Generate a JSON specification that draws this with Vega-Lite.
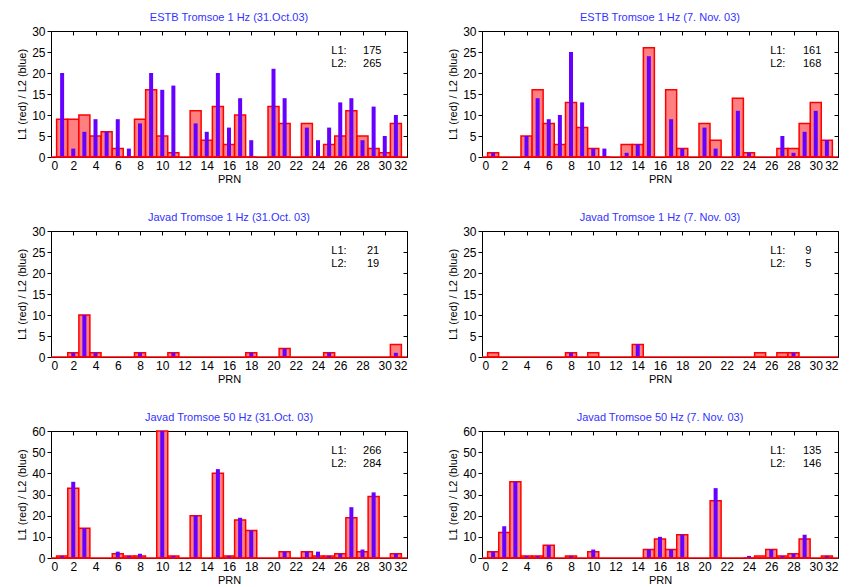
{
  "$schema": "https://vega.github.io/schema/vega-lite/v6.json",
  "padding": {"left": 16, "top": 11, "right": 2, "bottom": 0},
  "background": "white",
  "datasets": {
    "bars": [
      {"panel":"a","prn":1,"L1":9,"L2":20},{"panel":"a","prn":2,"L1":9,"L2":2},{"panel":"a","prn":3,"L1":10,"L2":6},{"panel":"a","prn":4,"L1":5,"L2":9},{"panel":"a","prn":5,"L1":6,"L2":6},{"panel":"a","prn":6,"L1":2,"L2":9},{"panel":"a","prn":7,"L1":0,"L2":2},{"panel":"a","prn":8,"L1":9,"L2":8},{"panel":"a","prn":9,"L1":16,"L2":20},{"panel":"a","prn":10,"L1":5,"L2":16},{"panel":"a","prn":11,"L1":1,"L2":17},{"panel":"a","prn":13,"L1":11,"L2":8},{"panel":"a","prn":14,"L1":4,"L2":6},{"panel":"a","prn":15,"L1":12,"L2":20},{"panel":"a","prn":16,"L1":3,"L2":7},{"panel":"a","prn":17,"L1":10,"L2":14},{"panel":"a","prn":18,"L1":0,"L2":4},{"panel":"a","prn":20,"L1":12,"L2":21},{"panel":"a","prn":21,"L1":8,"L2":14},{"panel":"a","prn":23,"L1":8,"L2":7},{"panel":"a","prn":24,"L1":0,"L2":4},{"panel":"a","prn":25,"L1":3,"L2":7},{"panel":"a","prn":26,"L1":5,"L2":13},{"panel":"a","prn":27,"L1":11,"L2":14},{"panel":"a","prn":28,"L1":5,"L2":4},{"panel":"a","prn":29,"L1":2,"L2":12},{"panel":"a","prn":30,"L1":1,"L2":5},{"panel":"a","prn":31,"L1":8,"L2":10},
      {"panel":"b","prn":1,"L1":1,"L2":1},{"panel":"b","prn":4,"L1":5,"L2":5},{"panel":"b","prn":5,"L1":16,"L2":14},{"panel":"b","prn":6,"L1":8,"L2":9},{"panel":"b","prn":7,"L1":3,"L2":10},{"panel":"b","prn":8,"L1":13,"L2":25},{"panel":"b","prn":9,"L1":7,"L2":13},{"panel":"b","prn":10,"L1":2,"L2":2},{"panel":"b","prn":11,"L1":0,"L2":2},{"panel":"b","prn":13,"L1":3,"L2":1},{"panel":"b","prn":14,"L1":3,"L2":3},{"panel":"b","prn":15,"L1":26,"L2":24},{"panel":"b","prn":17,"L1":16,"L2":9},{"panel":"b","prn":18,"L1":2,"L2":2},{"panel":"b","prn":20,"L1":8,"L2":7},{"panel":"b","prn":21,"L1":4,"L2":2},{"panel":"b","prn":23,"L1":14,"L2":11},{"panel":"b","prn":24,"L1":1,"L2":1},{"panel":"b","prn":27,"L1":2,"L2":5},{"panel":"b","prn":28,"L1":2,"L2":1},{"panel":"b","prn":29,"L1":8,"L2":6},{"panel":"b","prn":30,"L1":13,"L2":11},{"panel":"b","prn":31,"L1":4,"L2":4},
      {"panel":"c","prn":2,"L1":1,"L2":1},{"panel":"c","prn":3,"L1":10,"L2":10},{"panel":"c","prn":4,"L1":1,"L2":1},{"panel":"c","prn":8,"L1":1,"L2":1},{"panel":"c","prn":11,"L1":1,"L2":1},{"panel":"c","prn":18,"L1":1,"L2":1},{"panel":"c","prn":21,"L1":2,"L2":2},{"panel":"c","prn":25,"L1":1,"L2":1},{"panel":"c","prn":31,"L1":3,"L2":1},
      {"panel":"d","prn":1,"L1":1,"L2":0},{"panel":"d","prn":8,"L1":1,"L2":1},{"panel":"d","prn":10,"L1":1,"L2":0},{"panel":"d","prn":14,"L1":3,"L2":3},{"panel":"d","prn":25,"L1":1,"L2":0},{"panel":"d","prn":27,"L1":1,"L2":0},{"panel":"d","prn":28,"L1":1,"L2":1},
      {"panel":"e","prn":1,"L1":1,"L2":1},{"panel":"e","prn":2,"L1":33,"L2":36},{"panel":"e","prn":3,"L1":14,"L2":14},{"panel":"e","prn":6,"L1":2,"L2":3},{"panel":"e","prn":7,"L1":1,"L2":1},{"panel":"e","prn":8,"L1":1,"L2":2},{"panel":"e","prn":10,"L1":60,"L2":60},{"panel":"e","prn":11,"L1":1,"L2":1},{"panel":"e","prn":13,"L1":20,"L2":20},{"panel":"e","prn":15,"L1":40,"L2":42},{"panel":"e","prn":16,"L1":1,"L2":1},{"panel":"e","prn":17,"L1":18,"L2":19},{"panel":"e","prn":18,"L1":13,"L2":13},{"panel":"e","prn":21,"L1":3,"L2":3},{"panel":"e","prn":23,"L1":3,"L2":3},{"panel":"e","prn":24,"L1":1,"L2":3},{"panel":"e","prn":25,"L1":1,"L2":1},{"panel":"e","prn":26,"L1":2,"L2":2},{"panel":"e","prn":27,"L1":19,"L2":24},{"panel":"e","prn":28,"L1":3,"L2":4},{"panel":"e","prn":29,"L1":29,"L2":31},{"panel":"e","prn":31,"L1":2,"L2":2},
      {"panel":"f","prn":1,"L1":3,"L2":3},{"panel":"f","prn":2,"L1":12,"L2":15},{"panel":"f","prn":3,"L1":36,"L2":36},{"panel":"f","prn":4,"L1":1,"L2":1},{"panel":"f","prn":5,"L1":1,"L2":1},{"panel":"f","prn":6,"L1":6,"L2":6},{"panel":"f","prn":8,"L1":1,"L2":1},{"panel":"f","prn":10,"L1":3,"L2":4},{"panel":"f","prn":15,"L1":4,"L2":4},{"panel":"f","prn":16,"L1":9,"L2":10},{"panel":"f","prn":17,"L1":4,"L2":4},{"panel":"f","prn":18,"L1":11,"L2":11},{"panel":"f","prn":21,"L1":27,"L2":33},{"panel":"f","prn":24,"L1":0,"L2":1},{"panel":"f","prn":25,"L1":1,"L2":0},{"panel":"f","prn":26,"L1":4,"L2":4},{"panel":"f","prn":27,"L1":1,"L2":1},{"panel":"f","prn":28,"L1":2,"L2":2},{"panel":"f","prn":29,"L1":9,"L2":11},{"panel":"f","prn":31,"L1":1,"L2":1}
    ],
    "totals": [
      {"panel":"a","L1":175,"L2":265},{"panel":"b","L1":161,"L2":168},{"panel":"c","L1":21,"L2":19},{"panel":"d","L1":9,"L2":5},{"panel":"e","L1":266,"L2":284},{"panel":"f","L1":135,"L2":146}
    ]
  },
  "config": {
    "font": "Liberation Sans",
    "view": {"stroke": "#000000", "strokeWidth": 1},
    "axis": {"grid": false, "domain": false, "labelFontSize": 12, "titleFontSize": 11, "titleFontWeight": "normal", "labelColor": "#000000", "titleColor": "#000000", "tickColor": "#000000"},
    "title": {"fontSize": 11, "fontWeight": "normal", "color": "#3333ff", "offset": 2, "anchor": "middle"},
    "text": {"fontSize": 11, "color": "#000000"}
  },
  "columns": 2,
  "spacing": {"row": 26, "column": 38},
  "concat": [
    {
      "width": 356, "height": 126,
      "title": "ESTB Tromsoe 1 Hz (31.Oct.03)",
      "layer": [
        {"data": {"name": "bars"}, "transform": [{"filter": "datum.panel == 'a'"}],
         "mark": {"type": "bar", "width": 11, "fill": "#ff8080", "stroke": "#ff0000", "strokeWidth": 1.5},
         "encoding": {"x": {"field": "prn", "type": "quantitative", "scale": {"domain": [0, 32], "nice": false, "padding": 0}, "axis": {"orient": "bottom", "title": "PRN", "values": [0,2,4,6,8,10,12,14,16,18,20,22,24,26,28,30,32], "ticks": false, "labelPadding": 3, "titlePadding": 2}},
                      "y": {"field": "L1", "type": "quantitative", "scale": {"domain": [0, 30], "nice": false}, "axis": {"orient": "left", "title": "L1 (red) / L2 (blue)", "values": [0,5,10,15,20,25,30], "tickSize": 4, "labelPadding": 2, "titlePadding": 4}}}},
        {"data": {"name": "bars"}, "transform": [{"filter": "datum.panel == 'a'"}],
         "mark": {"type": "bar", "width": 4, "color": "#6600ff"},
         "encoding": {"x": {"field": "prn", "type": "quantitative", "scale": {"domain": [0, 32], "nice": false, "padding": 0}, "axis": {"orient": "top", "title": null, "labels": false, "values": [0,2,4,6,8,10,12,14,16,18,20,22,24,26,28,30,32], "tickSize": -4}},
                      "y": {"field": "L2", "type": "quantitative", "scale": {"domain": [0, 30], "nice": false}, "axis": {"orient": "right", "title": null, "labels": false, "values": [0,5,10,15,20,25,30], "tickSize": -4}}}},
        {"data": {"values": [{}]}, "mark": {"type": "rule", "color": "#ff0000", "strokeWidth": 1.5}, "encoding": {"y": {"datum": 0, "axis": null}}},
        {"data": {"name": "totals"}, "transform": [{"filter": "datum.panel == 'a'"}], "mark": {"type": "text", "align": "left", "baseline": "middle", "lineHeight": 13, "text": ["L1:", "L2:"]},
         "encoding": {"x": {"datum": 25.2, "axis": null}, "y": {"datum": 25.2, "axis": null}}},
        {"data": {"name": "totals"}, "transform": [{"filter": "datum.panel == 'a'"}], "mark": {"type": "text", "align": "right", "baseline": "middle"},
         "encoding": {"x": {"datum": 29.7, "axis": null}, "y": {"datum": 25.2, "axis": null}, "text": {"field": "L1"}}},
        {"data": {"name": "totals"}, "transform": [{"filter": "datum.panel == 'a'"}], "mark": {"type": "text", "align": "right", "baseline": "middle"},
         "encoding": {"x": {"datum": 29.7, "axis": null}, "y": {"datum": 22.1, "axis": null}, "text": {"field": "L2"}}}
      ]
    },
    {
      "width": 356, "height": 126,
      "title": "ESTB Tromsoe 1 Hz (7. Nov. 03)",
      "layer": [
        {"data": {"name": "bars"}, "transform": [{"filter": "datum.panel == 'b'"}],
         "mark": {"type": "bar", "width": 11, "fill": "#ff8080", "stroke": "#ff0000", "strokeWidth": 1.5},
         "encoding": {"x": {"field": "prn", "type": "quantitative", "scale": {"domain": [0, 32], "nice": false, "padding": 0}, "axis": {"orient": "bottom", "title": "PRN", "values": [0,2,4,6,8,10,12,14,16,18,20,22,24,26,28,30,32], "ticks": false, "labelPadding": 3, "titlePadding": 2}},
                      "y": {"field": "L1", "type": "quantitative", "scale": {"domain": [0, 30], "nice": false}, "axis": {"orient": "left", "title": "L1 (red) / L2 (blue)", "values": [0,5,10,15,20,25,30], "tickSize": 4, "labelPadding": 2, "titlePadding": 4}}}},
        {"data": {"name": "bars"}, "transform": [{"filter": "datum.panel == 'b'"}],
         "mark": {"type": "bar", "width": 4, "color": "#6600ff"},
         "encoding": {"x": {"field": "prn", "type": "quantitative", "scale": {"domain": [0, 32], "nice": false, "padding": 0}, "axis": {"orient": "top", "title": null, "labels": false, "values": [0,2,4,6,8,10,12,14,16,18,20,22,24,26,28,30,32], "tickSize": -4}},
                      "y": {"field": "L2", "type": "quantitative", "scale": {"domain": [0, 30], "nice": false}, "axis": {"orient": "right", "title": null, "labels": false, "values": [0,5,10,15,20,25,30], "tickSize": -4}}}},
        {"data": {"values": [{}]}, "mark": {"type": "rule", "color": "#ff0000", "strokeWidth": 1.5}, "encoding": {"y": {"datum": 0, "axis": null}}},
        {"data": {"name": "totals"}, "transform": [{"filter": "datum.panel == 'b'"}], "mark": {"type": "text", "align": "left", "baseline": "middle", "lineHeight": 13, "text": ["L1:", "L2:"]},
         "encoding": {"x": {"datum": 25.9, "axis": null}, "y": {"datum": 25.2, "axis": null}}},
        {"data": {"name": "totals"}, "transform": [{"filter": "datum.panel == 'b'"}], "mark": {"type": "text", "align": "right", "baseline": "middle"},
         "encoding": {"x": {"datum": 30.5, "axis": null}, "y": {"datum": 25.2, "axis": null}, "text": {"field": "L1"}}},
        {"data": {"name": "totals"}, "transform": [{"filter": "datum.panel == 'b'"}], "mark": {"type": "text", "align": "right", "baseline": "middle"},
         "encoding": {"x": {"datum": 30.5, "axis": null}, "y": {"datum": 22.1, "axis": null}, "text": {"field": "L2"}}}
      ]
    },
    {
      "width": 356, "height": 126,
      "title": "Javad Tromsoe 1 Hz (31.Oct. 03)",
      "layer": [
        {"data": {"name": "bars"}, "transform": [{"filter": "datum.panel == 'c'"}],
         "mark": {"type": "bar", "width": 11, "fill": "#ff8080", "stroke": "#ff0000", "strokeWidth": 1.5},
         "encoding": {"x": {"field": "prn", "type": "quantitative", "scale": {"domain": [0, 32], "nice": false, "padding": 0}, "axis": {"orient": "bottom", "title": "PRN", "values": [0,2,4,6,8,10,12,14,16,18,20,22,24,26,28,30,32], "ticks": false, "labelPadding": 3, "titlePadding": 2}},
                      "y": {"field": "L1", "type": "quantitative", "scale": {"domain": [0, 30], "nice": false}, "axis": {"orient": "left", "title": "L1 (red) / L2 (blue)", "values": [0,5,10,15,20,25,30], "tickSize": 4, "labelPadding": 2, "titlePadding": 4}}}},
        {"data": {"name": "bars"}, "transform": [{"filter": "datum.panel == 'c'"}],
         "mark": {"type": "bar", "width": 4, "color": "#6600ff"},
         "encoding": {"x": {"field": "prn", "type": "quantitative", "scale": {"domain": [0, 32], "nice": false, "padding": 0}, "axis": {"orient": "top", "title": null, "labels": false, "values": [0,2,4,6,8,10,12,14,16,18,20,22,24,26,28,30,32], "tickSize": -4}},
                      "y": {"field": "L2", "type": "quantitative", "scale": {"domain": [0, 30], "nice": false}, "axis": {"orient": "right", "title": null, "labels": false, "values": [0,5,10,15,20,25,30], "tickSize": -4}}}},
        {"data": {"values": [{}]}, "mark": {"type": "rule", "color": "#ff0000", "strokeWidth": 1.5}, "encoding": {"y": {"datum": 0, "axis": null}}},
        {"data": {"name": "totals"}, "transform": [{"filter": "datum.panel == 'c'"}], "mark": {"type": "text", "align": "left", "baseline": "middle", "lineHeight": 13, "text": ["L1:", "L2:"]},
         "encoding": {"x": {"datum": 25.2, "axis": null}, "y": {"datum": 25.2, "axis": null}}},
        {"data": {"name": "totals"}, "transform": [{"filter": "datum.panel == 'c'"}], "mark": {"type": "text", "align": "right", "baseline": "middle"},
         "encoding": {"x": {"datum": 29.5, "axis": null}, "y": {"datum": 25.2, "axis": null}, "text": {"field": "L1"}}},
        {"data": {"name": "totals"}, "transform": [{"filter": "datum.panel == 'c'"}], "mark": {"type": "text", "align": "right", "baseline": "middle"},
         "encoding": {"x": {"datum": 29.5, "axis": null}, "y": {"datum": 22.1, "axis": null}, "text": {"field": "L2"}}}
      ]
    },
    {
      "width": 356, "height": 126,
      "title": "Javad Tromsoe 1 Hz (7. Nov. 03)",
      "layer": [
        {"data": {"name": "bars"}, "transform": [{"filter": "datum.panel == 'd'"}],
         "mark": {"type": "bar", "width": 11, "fill": "#ff8080", "stroke": "#ff0000", "strokeWidth": 1.5},
         "encoding": {"x": {"field": "prn", "type": "quantitative", "scale": {"domain": [0, 32], "nice": false, "padding": 0}, "axis": {"orient": "bottom", "title": "PRN", "values": [0,2,4,6,8,10,12,14,16,18,20,22,24,26,28,30,32], "ticks": false, "labelPadding": 3, "titlePadding": 2}},
                      "y": {"field": "L1", "type": "quantitative", "scale": {"domain": [0, 30], "nice": false}, "axis": {"orient": "left", "title": "L1 (red) / L2 (blue)", "values": [0,5,10,15,20,25,30], "tickSize": 4, "labelPadding": 2, "titlePadding": 4}}}},
        {"data": {"name": "bars"}, "transform": [{"filter": "datum.panel == 'd'"}],
         "mark": {"type": "bar", "width": 4, "color": "#6600ff"},
         "encoding": {"x": {"field": "prn", "type": "quantitative", "scale": {"domain": [0, 32], "nice": false, "padding": 0}, "axis": {"orient": "top", "title": null, "labels": false, "values": [0,2,4,6,8,10,12,14,16,18,20,22,24,26,28,30,32], "tickSize": -4}},
                      "y": {"field": "L2", "type": "quantitative", "scale": {"domain": [0, 30], "nice": false}, "axis": {"orient": "right", "title": null, "labels": false, "values": [0,5,10,15,20,25,30], "tickSize": -4}}}},
        {"data": {"values": [{}]}, "mark": {"type": "rule", "color": "#ff0000", "strokeWidth": 1.5}, "encoding": {"y": {"datum": 0, "axis": null}}},
        {"data": {"name": "totals"}, "transform": [{"filter": "datum.panel == 'd'"}], "mark": {"type": "text", "align": "left", "baseline": "middle", "lineHeight": 13, "text": ["L1:", "L2:"]},
         "encoding": {"x": {"datum": 25.9, "axis": null}, "y": {"datum": 25.2, "axis": null}}},
        {"data": {"name": "totals"}, "transform": [{"filter": "datum.panel == 'd'"}], "mark": {"type": "text", "align": "right", "baseline": "middle"},
         "encoding": {"x": {"datum": 29.6, "axis": null}, "y": {"datum": 25.2, "axis": null}, "text": {"field": "L1"}}},
        {"data": {"name": "totals"}, "transform": [{"filter": "datum.panel == 'd'"}], "mark": {"type": "text", "align": "right", "baseline": "middle"},
         "encoding": {"x": {"datum": 29.6, "axis": null}, "y": {"datum": 22.1, "axis": null}, "text": {"field": "L2"}}}
      ]
    },
    {
      "width": 356, "height": 127,
      "title": "Javad Tromsoe 50 Hz (31.Oct. 03)",
      "layer": [
        {"data": {"name": "bars"}, "transform": [{"filter": "datum.panel == 'e'"}],
         "mark": {"type": "bar", "width": 11, "fill": "#ff8080", "stroke": "#ff0000", "strokeWidth": 1.5},
         "encoding": {"x": {"field": "prn", "type": "quantitative", "scale": {"domain": [0, 32], "nice": false, "padding": 0}, "axis": {"orient": "bottom", "title": "PRN", "values": [0,2,4,6,8,10,12,14,16,18,20,22,24,26,28,30,32], "ticks": false, "labelPadding": 3, "titlePadding": 2}},
                      "y": {"field": "L1", "type": "quantitative", "scale": {"domain": [0, 60], "nice": false}, "axis": {"orient": "left", "title": "L1 (red) / L2 (blue)", "values": [0,10,20,30,40,50,60], "tickSize": 4, "labelPadding": 2, "titlePadding": 4}}}},
        {"data": {"name": "bars"}, "transform": [{"filter": "datum.panel == 'e'"}],
         "mark": {"type": "bar", "width": 4, "color": "#6600ff"},
         "encoding": {"x": {"field": "prn", "type": "quantitative", "scale": {"domain": [0, 32], "nice": false, "padding": 0}, "axis": {"orient": "top", "title": null, "labels": false, "values": [0,2,4,6,8,10,12,14,16,18,20,22,24,26,28,30,32], "tickSize": -4}},
                      "y": {"field": "L2", "type": "quantitative", "scale": {"domain": [0, 60], "nice": false}, "axis": {"orient": "right", "title": null, "labels": false, "values": [0,10,20,30,40,50,60], "tickSize": -4}}}},
        {"data": {"values": [{}]}, "mark": {"type": "rule", "color": "#ff0000", "strokeWidth": 1.5}, "encoding": {"y": {"datum": 0, "axis": null}}},
        {"data": {"name": "totals"}, "transform": [{"filter": "datum.panel == 'e'"}], "mark": {"type": "text", "align": "left", "baseline": "middle", "lineHeight": 13, "text": ["L1:", "L2:"]},
         "encoding": {"x": {"datum": 25.2, "axis": null}, "y": {"datum": 50.4, "axis": null}}},
        {"data": {"name": "totals"}, "transform": [{"filter": "datum.panel == 'e'"}], "mark": {"type": "text", "align": "right", "baseline": "middle"},
         "encoding": {"x": {"datum": 29.7, "axis": null}, "y": {"datum": 50.4, "axis": null}, "text": {"field": "L1"}}},
        {"data": {"name": "totals"}, "transform": [{"filter": "datum.panel == 'e'"}], "mark": {"type": "text", "align": "right", "baseline": "middle"},
         "encoding": {"x": {"datum": 29.7, "axis": null}, "y": {"datum": 44.2, "axis": null}, "text": {"field": "L2"}}}
      ]
    },
    {
      "width": 356, "height": 127,
      "title": "Javad Tromsoe 50 Hz (7. Nov. 03)",
      "layer": [
        {"data": {"name": "bars"}, "transform": [{"filter": "datum.panel == 'f'"}],
         "mark": {"type": "bar", "width": 11, "fill": "#ff8080", "stroke": "#ff0000", "strokeWidth": 1.5},
         "encoding": {"x": {"field": "prn", "type": "quantitative", "scale": {"domain": [0, 32], "nice": false, "padding": 0}, "axis": {"orient": "bottom", "title": "PRN", "values": [0,2,4,6,8,10,12,14,16,18,20,22,24,26,28,30,32], "ticks": false, "labelPadding": 3, "titlePadding": 2}},
                      "y": {"field": "L1", "type": "quantitative", "scale": {"domain": [0, 60], "nice": false}, "axis": {"orient": "left", "title": "L1 (red) / L2 (blue)", "values": [0,10,20,30,40,50,60], "tickSize": 4, "labelPadding": 2, "titlePadding": 4}}}},
        {"data": {"name": "bars"}, "transform": [{"filter": "datum.panel == 'f'"}],
         "mark": {"type": "bar", "width": 4, "color": "#6600ff"},
         "encoding": {"x": {"field": "prn", "type": "quantitative", "scale": {"domain": [0, 32], "nice": false, "padding": 0}, "axis": {"orient": "top", "title": null, "labels": false, "values": [0,2,4,6,8,10,12,14,16,18,20,22,24,26,28,30,32], "tickSize": -4}},
                      "y": {"field": "L2", "type": "quantitative", "scale": {"domain": [0, 60], "nice": false}, "axis": {"orient": "right", "title": null, "labels": false, "values": [0,10,20,30,40,50,60], "tickSize": -4}}}},
        {"data": {"values": [{}]}, "mark": {"type": "rule", "color": "#ff0000", "strokeWidth": 1.5}, "encoding": {"y": {"datum": 0, "axis": null}}},
        {"data": {"name": "totals"}, "transform": [{"filter": "datum.panel == 'f'"}], "mark": {"type": "text", "align": "left", "baseline": "middle", "lineHeight": 13, "text": ["L1:", "L2:"]},
         "encoding": {"x": {"datum": 25.9, "axis": null}, "y": {"datum": 50.4, "axis": null}}},
        {"data": {"name": "totals"}, "transform": [{"filter": "datum.panel == 'f'"}], "mark": {"type": "text", "align": "right", "baseline": "middle"},
         "encoding": {"x": {"datum": 30.5, "axis": null}, "y": {"datum": 50.4, "axis": null}, "text": {"field": "L1"}}},
        {"data": {"name": "totals"}, "transform": [{"filter": "datum.panel == 'f'"}], "mark": {"type": "text", "align": "right", "baseline": "middle"},
         "encoding": {"x": {"datum": 30.5, "axis": null}, "y": {"datum": 44.2, "axis": null}, "text": {"field": "L2"}}}
      ]
    }
  ]
}
